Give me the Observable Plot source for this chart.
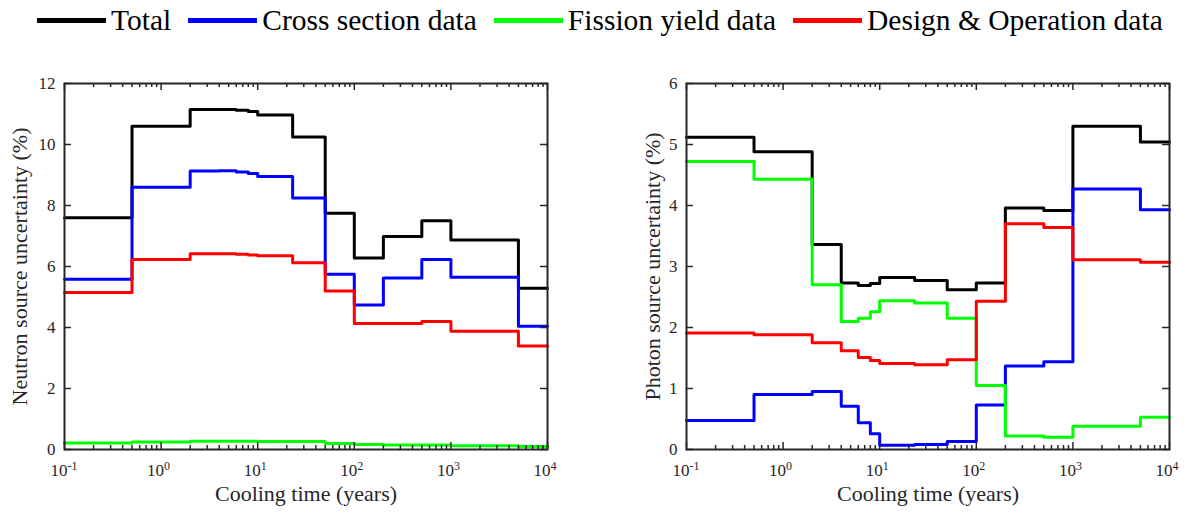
<!DOCTYPE html>
<html><head><meta charset="utf-8">
<script src="https://cdn.jsdelivr.net/npm/d3@7"></script>
<script src="https://cdn.jsdelivr.net/npm/@observablehq/plot@0.6"></script>
<style>
body{margin:0;background:#fff;font-family:"Liberation Serif","Tinos","DejaVu Serif","Noto Serif",serif;color:#000;}
#legend{height:40px;display:flex;align-items:center;padding-left:37px;font-size:29.5px;box-sizing:border-box;}
.item{display:flex;align-items:center;margin-right:17px;white-space:nowrap;}
.sw{width:69px;height:5px;margin-right:5px;}
#charts{display:flex;}
svg text{font-family:"Liberation Serif","Tinos","DejaVu Serif","Noto Serif",serif;}
</style></head><body>
<div id="legend"></div><div id="charts"></div>
<script>
// Bin edges of cooling time (years)
const edges = [0.1, 0.5, 2, 4, 6, 8, 10, 23, 50, 100, 200, 500, 1000, 5000, 10000];
const seriesNames = ["Total", "Cross section data", "Fission yield data", "Design & Operation data"];
const seriesColors = ["#000000", "#0000ff", "#00ff00", "#ff0000"];

// Neutron source uncertainty (%), one value per bin
const neutronTotal   = [7.6, 10.6, 11.15, 11.15, 11.12, 11.08, 10.97, 10.25, 7.75, 6.28, 6.98, 7.5, 6.87, 5.29];
const neutronCross   = [5.58, 8.6, 9.13, 9.14, 9.1, 9.05, 8.95, 8.25, 5.75, 4.74, 5.62, 6.23, 5.65, 4.04];
const neutronFission = [0.21, 0.25, 0.27, 0.27, 0.27, 0.27, 0.26, 0.26, 0.2, 0.16, 0.15, 0.15, 0.12, 0.1];
const neutronDesign  = [5.15, 6.23, 6.42, 6.42, 6.4, 6.38, 6.35, 6.12, 5.2, 4.13, 4.13, 4.2, 3.88, 3.39];

// Photon source uncertainty (%), one value per bin
const photonTotal   = [5.12, 4.88, 3.36, 2.73, 2.69, 2.72, 2.82, 2.77, 2.62, 2.73, 3.96, 3.92, 5.30, 5.04];
const photonCross   = [0.475, 0.90, 0.95, 0.71, 0.44, 0.26, 0.07, 0.08, 0.13, 0.73, 1.37, 1.44, 4.27, 3.93];
const photonFission = [4.72, 4.43, 2.70, 2.10, 2.15, 2.26, 2.44, 2.40, 2.15, 1.05, 0.22, 0.20, 0.38, 0.53];
const photonDesign  = [1.91, 1.88, 1.75, 1.62, 1.51, 1.46, 1.41, 1.39, 1.47, 2.43, 3.70, 3.64, 3.11, 3.07];

// Ticks
const xTickValues = [0.1, 1, 10, 100, 1000, 10000];
const xTickBase = "10";
const xTickExponents = ["-1", "0", "1", "2", "3", "4"];
const neutronYTicks = [0, 2, 4, 6, 8, 10, 12];
const photonYTicks = [0, 1, 2, 3, 4, 5, 6];
const xLabel = "Cooling time (years)";
const neutronYLabel = "Neutron source uncertainty (%)";
const photonYLabel = "Photon source uncertainty (%)";

// Legend
const legend = document.getElementById("legend");
seriesNames.forEach((n, i) => {
  const it = document.createElement("div"); it.className = "item";
  const sw = document.createElement("div"); sw.className = "sw"; sw.style.background = seriesColors[i];
  const tx = document.createElement("span"); tx.textContent = n;
  it.appendChild(sw); it.appendChild(tx); legend.appendChild(it);
});

const axisColor = "#262626";
const serif = "'Liberation Serif', 'Tinos', 'DejaVu Serif', 'Noto Serif', serif";

function makeChart({series, yTicks, yMax, yLabel, marginLeft, marginRight, yLabelDx}) {
  const rows = [];
  series.forEach((vals, s) => {
    vals.forEach((v, i) => rows.push({series: seriesNames[s], x: edges[i], y: v}));
    rows.push({series: seriesNames[s], x: edges[edges.length - 1], y: vals[vals.length - 1]});
  });
  const minor = d3.scaleLog().domain([0.1, 1e4]).ticks()
    .filter(t => Math.abs(Math.log10(t) - Math.round(Math.log10(t))) > 1e-6);
  const xMin = 0.1, xMax = 1e4;
  return Plot.plot({
    width: 596, height: 479,
    marginTop: 43, marginBottom: 70, marginLeft, marginRight,
    style: {fontFamily: serif, background: "#fff", color: axisColor, overflow: "visible"},
    x: {type: "log", domain: [xMin, xMax], axis: null},
    y: {domain: [0, yMax], axis: null},
    color: {domain: seriesNames, range: seriesColors},
    marks: [
      Plot.line(rows, {x: "x", y: "y", z: "series", stroke: "series", curve: "step-after", strokeWidth: 3}),
      // major x ticks, bottom and top (inward)
      Plot.ruleX(xTickValues, {x: d => d, y1: 0, y2: 0, insetBottom: 7, stroke: axisColor, strokeWidth: 1.5}),
      Plot.ruleX(xTickValues, {x: d => d, y1: yMax, y2: yMax, insetBottom: -7, stroke: axisColor, strokeWidth: 1.5}),
      // minor x ticks
      Plot.ruleX(minor, {x: d => d, y1: 0, y2: 0, insetBottom: 4, stroke: axisColor, strokeWidth: 1.5}),
      Plot.ruleX(minor, {x: d => d, y1: yMax, y2: yMax, insetBottom: -4, stroke: axisColor, strokeWidth: 1.5}),
      // y ticks left and right (inward)
      Plot.ruleY(yTicks, {y: d => d, x1: xMin, x2: xMin, insetRight: -7, stroke: axisColor, strokeWidth: 1.5}),
      Plot.ruleY(yTicks, {y: d => d, x1: xMax, x2: xMax, insetRight: 7, stroke: axisColor, strokeWidth: 1.5}),
      Plot.frame({stroke: axisColor, strokeWidth: 2}),
      // y tick labels
      Plot.text(yTicks, {x: xMin, y: d => d, text: d => String(d), textAnchor: "end", dx: -9, fontSize: 17, fill: axisColor}),
      // x tick labels: base + exponent
      Plot.text(xTickValues, {x: d => d, frameAnchor: "bottom", text: () => xTickBase, textAnchor: "end", dx: 3, dy: 26, fontSize: 17, fill: axisColor}),
      Plot.text(xTickValues, {x: d => d, frameAnchor: "bottom", text: (d, i) => xTickExponents[i], textAnchor: "start", dx: 3, dy: 20, fontSize: 12, fill: axisColor}),
      // axis labels
      Plot.text([xLabel], {frameAnchor: "bottom", text: d => d, textAnchor: "middle", dy: 51, fontSize: 22, fill: axisColor}),
      Plot.text([yLabel], {frameAnchor: "left", text: d => d, textAnchor: "middle", dx: yLabelDx, rotate: -90, fontSize: 22, fill: axisColor})
    ]
  });
}

const charts = document.getElementById("charts");
charts.appendChild(makeChart({
  series: [neutronTotal, neutronCross, neutronFission, neutronDesign],
  yTicks: neutronYTicks, yMax: 12, yLabel: neutronYLabel,
  marginLeft: 64, marginRight: 49, yLabelDx: -45
}));
charts.appendChild(makeChart({
  series: [photonTotal, photonCross, photonFission, photonDesign],
  yTicks: photonYTicks, yMax: 6, yLabel: photonYLabel,
  marginLeft: 90, marginRight: 23, yLabelDx: -34
}));
</script>
</body></html>
